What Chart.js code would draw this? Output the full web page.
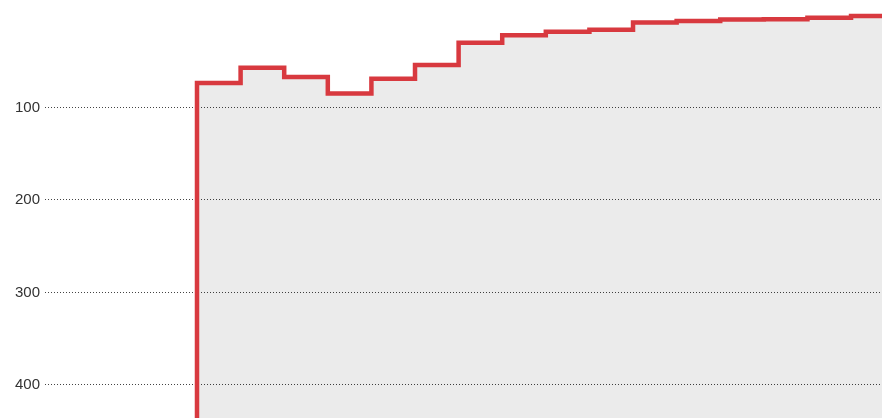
<!DOCTYPE html>
<html>
<head>
<meta charset="utf-8">
<script src="https://cdn.jsdelivr.net/npm/chart.js@4/dist/chart.umd.min.js"></script>
<style>
  html, body { margin: 0; padding: 0; background: #fff; }
  #wrap { width: 882px; height: 418px; position: relative; }
</style>
</head>
<body>
<div id="wrap"><canvas id="c"></canvas></div>
<script>
// Step positions (index) and step values
const stepIndex = [-1, 0, 1, 2, 3, 4, 5, 6, 7, 8, 9, 10, 11, 12, 13, 14, 15, 16];
const stepValues = [600, 73.5, 57, 67, 85, 69, 54, 30, 22, 18, 16, 8, 6.5, 5, 4.5, 3, 1, 1];
const yTickValues = [100, 200, 300, 400];

const points = stepIndex.map((x, i) => ({ x: x, y: stepValues[i] }));

new Chart(document.getElementById('c'), {
  type: 'line',
  data: {
    datasets: [{
      data: points,
      stepped: true,
      borderColor: '#d8393f',
      borderWidth: 4.5,
      backgroundColor: 'rgba(0,0,0,0.08)',
      fill: 'start',
      pointRadius: 0,
      tension: 0
    }]
  },
  options: {
    responsive: true,
    maintainAspectRatio: false,
    animation: false,
    layout: { padding: 0 },
    plugins: { legend: { display: false }, tooltip: { enabled: false } },
    scales: {
      x: {
        type: 'linear',
        display: false,
        min: -3.486,
        max: 15.71
      },
      y: {
        reverse: true,
        min: -16.2,
        max: 435.7,
        afterBuildTicks: (axis) => { axis.ticks = yTickValues.map(v => ({ value: v })); },
        afterFit: (scale) => { scale.width = 45; scale.paddingTop = 0; scale.paddingBottom = 0; },
        grid: { color: '#444', lineWidth: 1, drawTicks: false },
        border: { display: false, dash: [1, 2] },
        ticks: {
          padding: 5,
          color: '#333',
          font: { family: 'Liberation Sans', size: 15 }
        }
      }
    }
  }
});
</script>
</body>
</html>
